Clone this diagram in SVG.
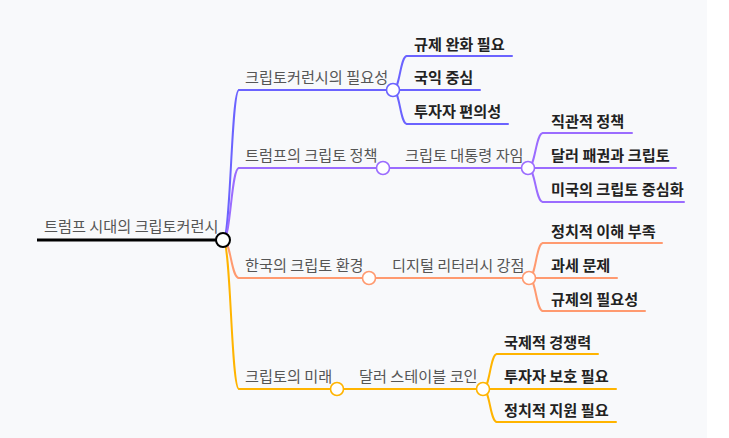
<svg xmlns="http://www.w3.org/2000/svg" width="729" height="438" viewBox="0 0 729 438">
<style>
text{font-family:"Noto Sans CJK KR","Noto Sans",sans-serif;font-size:15.2px}
.t1{fill:#555}
.t2{fill:#222;font-weight:700}
.ln{fill:none;stroke-width:2;stroke-linecap:round}
.lk{fill:none;stroke-width:2}
.dot{fill:#fff;stroke-width:1.6}
.c1{stroke:#6b63ff}
.c2{stroke:#9b6cff}
.c3{stroke:#ff9a70}
.c4{stroke:#ffb400}
</style>
<rect x="0" y="0" width="729" height="438" fill="#ffffff"/>
<rect x="0" y="0" width="707" height="438" fill="#f8f9fb"/>
<g id="connectors">
<path class="lk c1" d="M223,240 C231,240 231,90 239,90"/>
<path class="lk c2" d="M223,240 C231,240 231,168 239,168"/>
<path class="lk c3" d="M223,240 C231,240 231,278 239,278"/>
<path class="lk c4" d="M223,240 C231,240 231,389 239,389"/>
<path class="lk c1" d="M393,90 C400,90 400,56 407,56"/>
<path class="lk c1" d="M393,90 C400,90 400,124 407,124"/>
<path class="lk c2" d="M528,168 C535.5,168 535.5,133 543,133"/>
<path class="lk c2" d="M528,168 C535.5,168 535.5,202 543,202"/>
<path class="lk c3" d="M529,278 C536,278 536,243 543,243"/>
<path class="lk c3" d="M529,278 C536,278 536,311 543,311"/>
<path class="lk c4" d="M483,389 C490,389 490,354 497,354"/>
<path class="lk c4" d="M483,389 C490,389 490,422 497,422"/>
</g>
<g id="n-c1a"><path class="ln c1" d="M407,56 H512"/><text class="t2" x="414" y="50">규제 완화 필요</text></g>
<g id="n-c1b"><path class="ln c1" d="M393,90 H480"/><text class="t2" x="414" y="83">국익 중심</text></g>
<g id="n-c1c"><path class="ln c1" d="M407,124 H508"/><text class="t2" x="414" y="117">투자자 편의성</text></g>
<g id="n-c2a"><path class="ln c2" d="M543,133 H632"/><text class="t2" x="551" y="127">직관적 정책</text></g>
<g id="n-c2b"><path class="ln c2" d="M528,168 H676"/><text class="t2" x="551" y="161">달러 패권과 크립토</text></g>
<g id="n-c2c"><path class="ln c2" d="M543,202 H684"/><text class="t2" x="551" y="195">미국의 크립토 중심화</text></g>
<g id="n-c3a"><path class="ln c3" d="M543,243 H662"/><text class="t2" x="551" y="237">정치적 이해 부족</text></g>
<g id="n-c3b"><path class="ln c3" d="M529,278 H617"/><text class="t2" x="551" y="271">과세 문제</text></g>
<g id="n-c3c"><path class="ln c3" d="M543,311 H645"/><text class="t2" x="551" y="305">규제의 필요성</text></g>
<g id="n-c4a"><path class="ln c4" d="M497,354 H598"/><text class="t2" x="504" y="348">국제적 경쟁력</text></g>
<g id="n-c4b"><path class="ln c4" d="M483,389 H616"/><text class="t2" x="504" y="382">투자자 보호 필요</text></g>
<g id="n-c4c"><path class="ln c4" d="M497,422 H616"/><text class="t2" x="504" y="416">정치적 지원 필요</text></g>
<g id="n-b2s"><path class="ln c2" d="M383,168 H528"/><circle class="dot c2" cx="528" cy="168" r="6.5"/><text class="t1" x="405" y="161">크립토 대통령 자임</text></g>
<g id="n-b3s"><path class="ln c3" d="M369,278 H529"/><circle class="dot c3" cx="529" cy="278" r="6.5"/><text class="t1" x="392" y="271">디지털 리터러시 강점</text></g>
<g id="n-b4s"><path class="ln c4" d="M337,389 H483"/><circle class="dot c4" cx="483" cy="389" r="6.5"/><text class="t1" x="359" y="382">달러 스테이블 코인</text></g>
<g id="n-b1"><path class="ln c1" d="M239,90 H393"/><circle class="dot c1" cx="393" cy="90" r="6.5"/><text class="t1" x="245" y="83">크립토커런시의 필요성</text></g>
<g id="n-b2"><path class="ln c2" d="M239,168 H383"/><circle class="dot c2" cx="383" cy="168" r="6.5"/><text class="t1" x="245" y="161">트럼프의 크립토 정책</text></g>
<g id="n-b3"><path class="ln c3" d="M239,278 H369"/><circle class="dot c3" cx="369" cy="278" r="6.5"/><text class="t1" x="245" y="271">한국의 크립토 환경</text></g>
<g id="n-b4"><path class="ln c4" d="M239,389 H337"/><circle class="dot c4" cx="337" cy="389" r="6.5"/><text class="t1" x="245" y="382">크립토의 미래</text></g>
<g id="n-root"><path d="M37,240 H223" stroke="#000" stroke-width="3" fill="none"/><circle cx="223" cy="240" r="7" fill="#fff" stroke="#000" stroke-width="2"/><text class="t1" x="44" y="232">트럼프 시대의 크립토커런시</text></g>
</svg>
